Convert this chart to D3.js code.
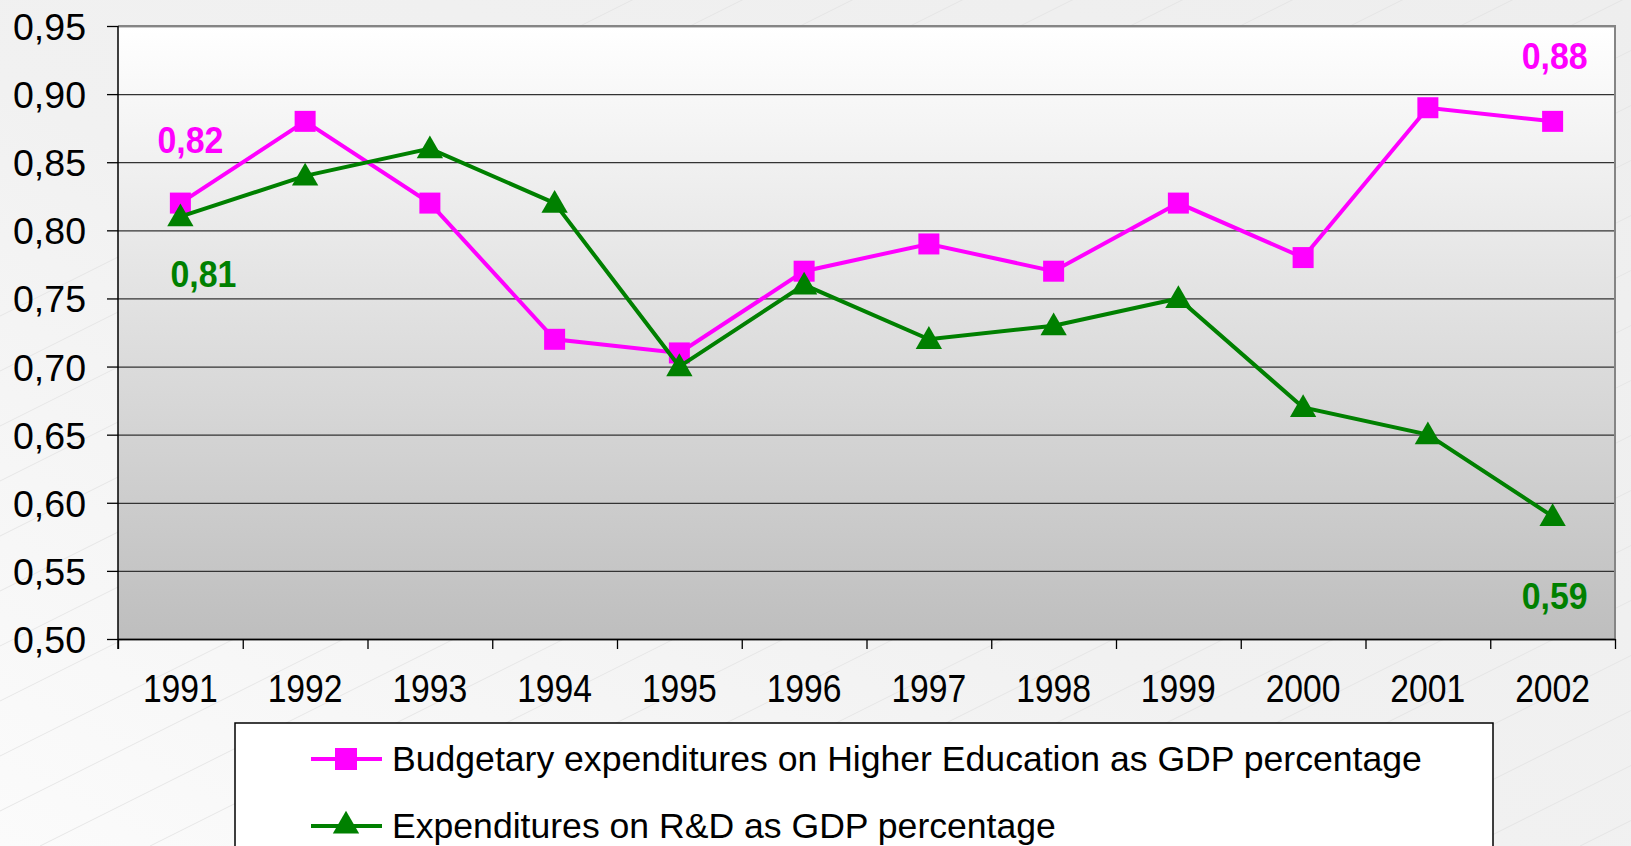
<!DOCTYPE html>
<html>
<head>
<meta charset="utf-8">
<script src="https://cdn.jsdelivr.net/npm/d3@7"></script>
<style>
  body { margin: 0; background: #efefef; }
  svg { display: block; font-family: "Liberation Sans", Arial, sans-serif; }
</style>
</head>
<body>
<script>
//chart data
var years = ["1991", "1992", "1993", "1994", "1995", "1996", "1997", "1998", "1999", "2000", "2001", "2002"];
var higherEdu = [0.82, 0.88, 0.82, 0.72, 0.71, 0.77, 0.79, 0.77, 0.82, 0.78, 0.89, 0.88];
var researchDev = [0.81, 0.84, 0.86, 0.82, 0.70, 0.76, 0.72, 0.73, 0.75, 0.67, 0.65, 0.59];
var yTicks = [0.50, 0.55, 0.60, 0.65, 0.70, 0.75, 0.80, 0.85, 0.90, 0.95];
var seriesNames = [
    "Budgetary expenditures on Higher Education as GDP percentage",
    "Expenditures on R&D as GDP percentage"
];
var seriesColors = ["#ff00ff", "#008000"];

window.onload = drawChart();

function drawChart(){
    var width = 1631,
        height = 846;

    var left = 118, right = 1615, top = 26, bottom = 639;

    var svg = d3.select("body")
        .append("svg")
        .attr("width", width)
        .attr("height", height);

    var defs = svg.append("defs");

    //page background, slightly lighter in the lower left
    var bg = defs.append("linearGradient")
        .attr("id", "pageBg")
        .attr("x1", 0).attr("y1", 1).attr("x2", 1).attr("y2", 0);
    bg.append("stop").attr("offset", "0%").attr("stop-color", "#fbfbfb");
    bg.append("stop").attr("offset", "45%").attr("stop-color", "#f1f1f1");
    bg.append("stop").attr("offset", "100%").attr("stop-color", "#eeeeee");

    //plot area gradient white -> grey
    var plotBg = defs.append("linearGradient")
        .attr("id", "plotBg")
        .attr("x1", 0).attr("y1", 0).attr("x2", 0).attr("y2", 1);
    plotBg.append("stop").attr("offset", "0%").attr("stop-color", "#ffffff");
    plotBg.append("stop").attr("offset", "100%").attr("stop-color", "#bebebe");

    svg.append("rect")
        .attr("width", width)
        .attr("height", height)
        .attr("fill", "url(#pageBg)");

    //faint diagonal streaks of the slide background
    svg.append("g")
        .selectAll("line")
        .data(d3.range(-6, 20))
        .enter()
        .append("line")
        .attr("x1", function(d){ return d * 110 - 400; })
        .attr("y1", height)
        .attr("x2", function(d){ return d * 110 - 400 + 1700; })
        .attr("y2", height - 850)
        .attr("stroke", "#e2e2e2")
        .attr("stroke-width", 0.8);

    var x = d3.scaleBand()
        .domain(years)
        .range([left, right])
        .padding(0);

    var xEdge = d3.scaleLinear()
        .domain([0, years.length])
        .range([left, right]);

    var y = d3.scaleLinear()
        .domain([0.5, 0.95])
        .range([bottom, top]);

    var fmt = d3.formatLocale({decimal: ",", thousands: " ", grouping: [3], currency: ["", ""]}).format(".2f");

    //plot area
    svg.append("rect")
        .attr("x", left)
        .attr("y", top)
        .attr("width", right - left)
        .attr("height", bottom - top)
        .attr("fill", "url(#plotBg)");

    //gridlines
    var grid = svg.append("g")
        .attr("transform", "translate(" + left + ",0)")
        .call(d3.axisLeft(y).tickValues(yTicks).tickSize(-(right - left)).tickFormat(""));
    grid.select(".domain").remove();
    grid.selectAll("line").attr("stroke", "#333").attr("stroke-width", 1.3);

    //frame top and right
    svg.append("path")
        .attr("d", "M" + left + "," + top + "H" + right + "V" + bottom)
        .attr("fill", "none")
        .attr("stroke", "#858585")
        .attr("stroke-width", 2);

    //y axis
    var yAxis = svg.append("g")
        .attr("transform", "translate(" + left + ",0)")
        .call(d3.axisLeft(y).tickValues(yTicks).tickSize(11).tickSizeOuter(0).tickPadding(21).tickFormat(fmt));
    yAxis.select(".domain").attr("stroke", "#000").attr("stroke-width", 1.5)
        .attr("d", "M0," + top + "V" + (bottom + 10));
    yAxis.selectAll("line").attr("stroke", "#000").attr("stroke-width", 1.3);
    yAxis.selectAll("text")
        .attr("font-size", 37.5)
        .attr("fill", "#000")
        .attr("dy", "0.36em");

    //x axis boundary ticks
    var xTicks = svg.append("g")
        .attr("transform", "translate(0," + bottom + ")")
        .call(d3.axisBottom(xEdge).tickValues(d3.range(years.length + 1)).tickSize(10).tickSizeOuter(0).tickFormat(""));
    xTicks.select(".domain").attr("stroke", "#000").attr("stroke-width", 1.5);
    xTicks.selectAll("line").attr("stroke", "#000").attr("stroke-width", 1.3);

    //x labels
    var xAxis = svg.append("g")
        .attr("transform", "translate(0," + bottom + ")")
        .call(d3.axisBottom(x).tickSize(0).tickPadding(36));
    xAxis.select(".domain").remove();
    xAxis.selectAll("text")
        .attr("font-size", 38)
        .attr("fill", "#000")
        .attr("textLength", 75)
        .attr("lengthAdjust", "spacingAndGlyphs");

    var line = d3.line()
        .x(function(d, i){ return x(years[i]) + x.bandwidth() / 2; })
        .y(function(d){ return y(d); });

    //higher education series (squares)
    svg.append("path")
        .datum(higherEdu)
        .attr("d", line)
        .attr("fill", "none")
        .attr("stroke", seriesColors[0])
        .attr("stroke-width", 4);

    svg.append("g")
        .selectAll("rect")
        .data(higherEdu)
        .enter()
        .append("rect")
        .attr("x", function(d, i){ return x(years[i]) + x.bandwidth() / 2 - 10.5; })
        .attr("y", function(d){ return y(d) - 10.5; })
        .attr("width", 21)
        .attr("height", 21)
        .attr("fill", seriesColors[0]);

    //R&D series (triangles)
    svg.append("path")
        .datum(researchDev)
        .attr("d", line)
        .attr("fill", "none")
        .attr("stroke", seriesColors[1])
        .attr("stroke-width", 4);

    var tri = d3.symbol().type(d3.symbolTriangle).size(300);

    svg.append("g")
        .selectAll("path")
        .data(researchDev)
        .enter()
        .append("path")
        .attr("d", tri)
        .attr("transform", function(d, i){
            return "translate(" + (x(years[i]) + x.bandwidth() / 2) + "," + (y(d) + 2) + ")";
        })
        .attr("fill", seriesColors[1]);

    //data labels on first and last points
    var labelSeries = [higherEdu, higherEdu, researchDev, researchDev];
    var labelIndex = [0, 11, 0, 11];
    var labelColor = [0, 0, 1, 1];
    var labelDx = [10, 2, 23, 2];
    var labelDy = [-50, -52, 70, 93];

    svg.append("g")
        .selectAll("text")
        .data(labelIndex)
        .enter()
        .append("text")
        .attr("x", function(d, i){ return x(years[d]) + x.bandwidth() / 2 + labelDx[i]; })
        .attr("y", function(d, i){ return y(labelSeries[i][d]) + labelDy[i]; })
        .attr("text-anchor", "middle")
        .attr("font-size", 36)
        .attr("font-weight", "bold")
        .attr("textLength", 66)
        .attr("lengthAdjust", "spacingAndGlyphs")
        .attr("fill", function(d, i){ return seriesColors[labelColor[i]]; })
        .text(function(d, i){ return fmt(labelSeries[i][d]); });

    //legend
    var legend = svg.append("g");

    legend.append("rect")
        .attr("x", 235)
        .attr("y", 723)
        .attr("width", 1258)
        .attr("height", 140)
        .attr("fill", "#fff")
        .attr("stroke", "#000")
        .attr("stroke-width", 1.5);

    var rows = legend.selectAll(".row")
        .data(seriesNames)
        .enter()
        .append("g")
        .attr("class", "row")
        .attr("transform", function(d, i){ return "translate(0," + (759 + i * 67) + ")"; });

    rows.append("line")
        .attr("x1", 311)
        .attr("x2", 382)
        .attr("stroke", function(d, i){ return seriesColors[i]; })
        .attr("stroke-width", 4);

    rows.append("path")
        .attr("d", function(d, i){
            return i === 0 ? "M-11,-11H11V11H-11Z" : tri();
        })
        .attr("transform", "translate(346,0)")
        .attr("fill", function(d, i){ return seriesColors[i]; });

    rows.append("text")
        .attr("x", 392)
        .attr("y", 12)
        .attr("font-size", 35.6)
        .attr("fill", "#000")
        .text(function(d){ return d; });
}
</script>
</body>
</html>
